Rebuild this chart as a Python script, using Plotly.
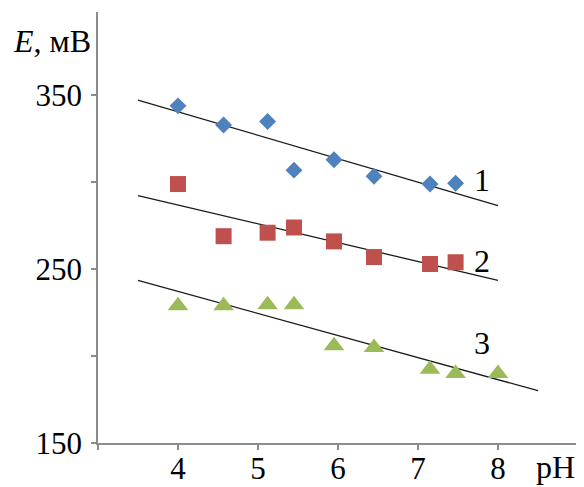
import plotly.graph_objects as go

# pH values
ph_12 = [4.0, 4.57, 5.12, 5.45, 5.95, 6.45, 7.15, 7.47]
ph_3 = [4.0, 4.57, 5.12, 5.45, 5.95, 6.45, 7.15, 7.47, 8.0]

# measured potentials, mV
e_1 = [344, 333, 335, 307, 313, 303.5, 299, 299.5]
e_2 = [299, 269, 271, 274, 266, 257, 253, 254]
e_3 = [229, 229, 229.5, 229.5, 206, 205, 192.5, 190, 190]

# trend lines (start/end)
trend1_x = [3.5, 8.0]
trend1_y = [347.3, 286.6]
trend2_x = [3.5, 8.0]
trend2_y = [292.4, 243.6]
trend3_x = [3.5, 8.5]
trend3_y = [243.6, 180.1]

x_tickvals = [3, 4, 5, 6, 7, 8, 9]
x_ticktext = ["", "4", "5", "6", "7", "8", ""]
y_tickvals = [150, 200, 250, 300, 350]
y_ticktext = ["150", "", "250", "", "350"]

curve_labels = ["1", "2", "3"]

SERIF = "Liberation Serif, Times New Roman, serif"
W, H = 584, 487
OFF = 8  # page body margin offset
L, R, T, B = 90, 14, 4, 52
PW, PH = W - L - R, H - T - B

fig = go.Figure()
for tx, ty in [(trend1_x, trend1_y), (trend2_x, trend2_y), (trend3_x, trend3_y)]:
    fig.add_trace(go.Scatter(x=tx, y=ty, mode="lines",
                             line=dict(color="#1a1a1a", width=1.3),
                             showlegend=False, hoverinfo="skip"))

fig.add_trace(go.Scatter(x=ph_12, y=e_1, mode="markers",
                         marker=dict(symbol="diamond", size=13, color="#4F81BD"),
                         showlegend=False))
fig.add_trace(go.Scatter(x=ph_12, y=e_2, mode="markers",
                         marker=dict(symbol="square", size=16, color="#C0504D"),
                         showlegend=False))
fig.add_trace(go.Scatter(x=ph_3, y=e_3, mode="markers",
                         marker=dict(symbol="triangle-up", size=18, color="#9BBB59"),
                         showlegend=False))

label_pos = [(7.8, 301.6), (7.8, 254.5), (7.8, 207.5)]
for txt, (lx, ly) in zip(curve_labels, label_pos):
    fig.add_annotation(x=lx, y=ly, text=txt, showarrow=False,
                       font=dict(family=SERIF, size=32, color="black"))

def px_x(p):
    return (p - OFF - L) / PW

def px_y(p):
    return (H - B - (p - OFF)) / PH

fig.add_annotation(xref="paper", yref="paper", x=px_x(11), y=px_y(41),
                   xanchor="left", yanchor="middle", showarrow=False,
                   text="<i>E</i>, мВ",
                   font=dict(family=SERIF, size=32, color="black"))
fig.add_annotation(xref="paper", yref="paper", x=px_x(555), y=px_y(467),
                   xanchor="center", yanchor="middle", showarrow=False,
                   text="pH",
                   font=dict(family=SERIF, size=32, color="black"))

axis_common = dict(showgrid=False, zeroline=False, showline=True,
                   linecolor="#8c8c8c", linewidth=1.5, automargin=False,
                   ticks="outside", ticklen=5, tickcolor="#8c8c8c", tickwidth=1.5,
                   tickfont=dict(family=SERIF, size=31, color="black"))

fig.update_xaxes(range=[3, 9], tickmode="array", tickvals=x_tickvals,
                 ticktext=x_ticktext, ticklabelstandoff=-8, **axis_common)
fig.update_yaxes(range=[150, 398], tickmode="array", tickvals=y_tickvals,
                 ticktext=y_ticktext, ticklabelstandoff=3, **axis_common)

fig.update_layout(width=W, height=H, margin=dict(l=L, r=R, t=T, b=B),
                  plot_bgcolor="white", paper_bgcolor="white")

fig.write_html("out.html")
